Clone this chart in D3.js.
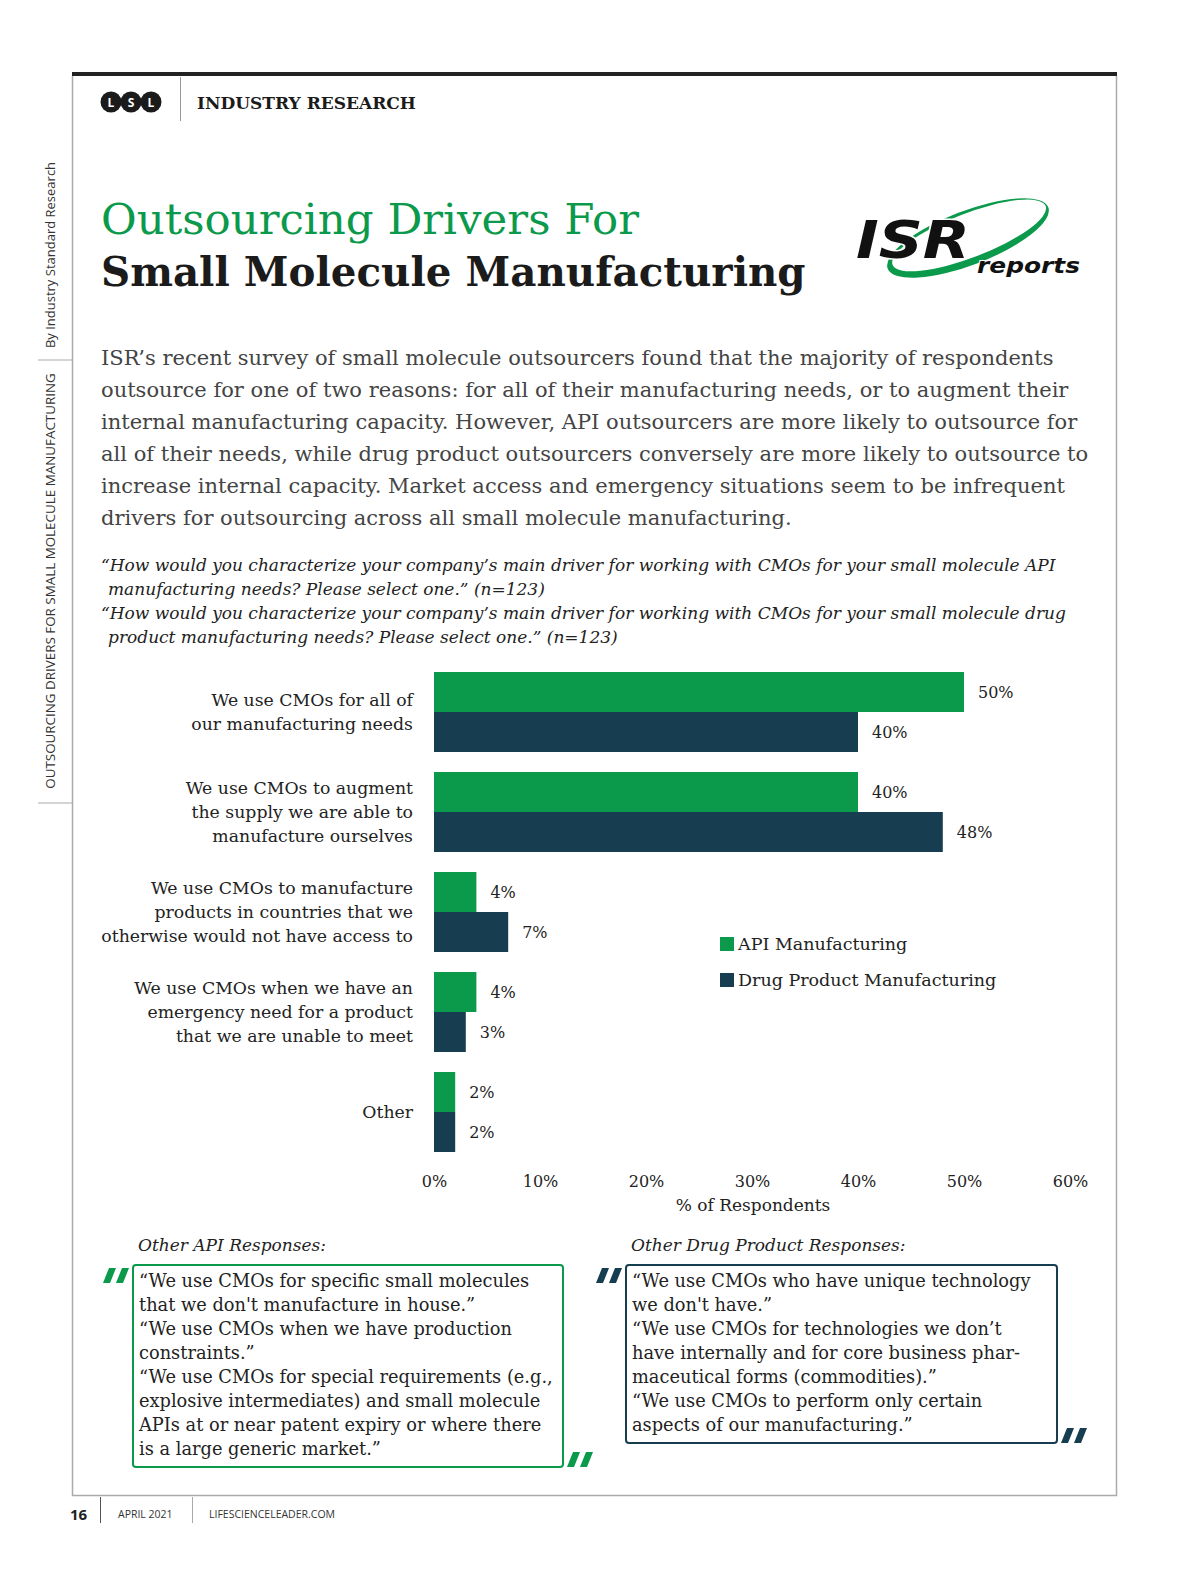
<!DOCTYPE html>
<html>
<head>
<meta charset="utf-8">
<script src="https://cdn.jsdelivr.net/npm/d3@7"></script>
<style>
  html, body { margin: 0; padding: 0; background: #fff; overflow: hidden; }
  svg { display: block; }
</style>
</head>
<body>
<svg id="page" width="1200" height="1582"></svg>
<script>
// chart data
const categories = [
  ["We use CMOs for all of", "our manufacturing needs"],
  ["We use CMOs to augment", "the supply we are able to", "manufacture ourselves"],
  ["We use CMOs to manufacture", "products in countries that we", "otherwise would not have access to"],
  ["We use CMOs when we have an", "emergency need for a product", "that we are unable to meet"],
  ["Other"]
]
const apiValues = [50, 40, 4, 4, 2]
const drugValues = [40, 48, 7, 3, 2]
const seriesNames = ["API Manufacturing", "Drug Product Manufacturing"]
const xTicks = [0, 10, 20, 30, 40, 50, 60]

const green = "#0b9a4b", navy = "#173d51"
const serif = "'DejaVu Serif', serif"
const sans = "'Open Sans', 'DejaVu Sans', sans-serif"

const svg = d3.select("#page")

/* page frame */
svg.append("rect").attr("x", 72).attr("y", 72).attr("width", 1045).attr("height", 4).attr("fill", "#222")
svg.append("line").attr("x1", 72.5).attr("x2", 72.5).attr("y1", 76).attr("y2", 1496).attr("stroke", "#aaa").attr("stroke-width", 1.5)
svg.append("line").attr("x1", 1116.5).attr("x2", 1116.5).attr("y1", 76).attr("y2", 1496).attr("stroke", "#aaa").attr("stroke-width", 1.5)
svg.append("line").attr("x1", 72).attr("x2", 1117).attr("y1", 1495.5).attr("y2", 1495.5).attr("stroke", "#aaa").attr("stroke-width", 1.5)
svg.append("line").attr("x1", 38).attr("x2", 72).attr("y1", 360).attr("y2", 360).attr("stroke", "#aaa")
svg.append("line").attr("x1", 38).attr("x2", 72).attr("y1", 803).attr("y2", 803).attr("stroke", "#aaa")

// side texts
svg.append("text").attr("transform", "translate(55,255) rotate(-90)")
  .attr("text-anchor", "middle").attr("font-family", sans).attr("font-size", 13).attr("fill", "#333")
  .text("By Industry Standard Research")
svg.append("text").attr("transform", "translate(55,581) rotate(-90)")
  .attr("text-anchor", "middle").attr("font-family", sans).attr("font-size", 13.4).attr("fill", "#333")
  .text("OUTSOURCING DRIVERS FOR SMALL MOLECULE MANUFACTURING")

/* header */
;["L", "S", "L"].forEach((l, i) => {
  svg.append("circle").attr("cx", 111 + i * 20).attr("cy", 102).attr("r", 10.5).attr("fill", "#1b1b1b")
  svg.append("text").attr("x", 111 + i * 20).attr("y", 106.5).attr("text-anchor", "middle")
    .attr("font-family", sans).attr("font-weight", 700).attr("font-size", 12).attr("fill", "#fff").text(l)
})
svg.append("line").attr("x1", 180.5).attr("x2", 180.5).attr("y1", 77).attr("y2", 121).attr("stroke", "#999")
svg.append("text").attr("x", 197).attr("y", 109).attr("font-family", serif).attr("font-weight", 700)
  .attr("font-size", 17).attr("fill", "#1b1b1b").text("INDUSTRY RESEARCH")

/* title */
svg.append("text").attr("x", 101).attr("y", 234).attr("font-family", serif).attr("font-size", 43.5)
  .attr("fill", green).text("Outsourcing Drivers For")
svg.append("text").attr("x", 101).attr("y", 286).attr("font-family", serif).attr("font-weight", 700)
  .attr("font-size", 40.4).attr("fill", "#1b1b1b").text("Small Molecule Manufacturing")

/* ISR logo */
const logo = svg.append("g")
logo.append("path")
  .attr("transform", "translate(968,238) rotate(-21)")
  .attr("fill-rule", "evenodd")
  .attr("d", "M-86,0 A86,27 0 1,0 86,0 A86,27 0 1,0 -86,0 Z M-80,-2 A82,22 0 1,0 84,-2 A82,22 0 1,0 -80,-2 Z")
  .attr("fill", green)
logo.append("text").attr("x", 856).attr("y", 258).attr("font-family", "'DejaVu Sans', sans-serif")
  .attr("font-weight", 700).attr("font-style", "italic").attr("font-size", 52)
  .attr("textLength", 114).attr("lengthAdjust", "spacingAndGlyphs")
  .attr("stroke", "#fff").attr("stroke-width", 3).attr("paint-order", "stroke")
  .attr("fill", "#111").text("ISR")
logo.append("text").attr("x", 977).attr("y", 273).attr("font-family", "'DejaVu Sans', sans-serif")
  .attr("font-weight", 700).attr("font-style", "italic").attr("font-size", 22)
  .attr("textLength", 103).attr("lengthAdjust", "spacingAndGlyphs")
  .attr("stroke", "#fff").attr("stroke-width", 2).attr("paint-order", "stroke")
  .attr("fill", "#111").text("reports")

/* intro paragraph */
const para = [
  "ISR\u2019s recent survey of small molecule outsourcers found that the majority of respondents",
  "outsource for one of two reasons: for all of their manufacturing needs, or to augment their",
  "internal manufacturing capacity. However, API outsourcers are more likely to outsource for",
  "all of their needs, while drug product outsourcers conversely are more likely to outsource to",
  "increase internal capacity. Market access and emergency situations seem to be infrequent",
  "drivers for outsourcing across all small molecule manufacturing."
]
svg.append("g").selectAll("text").data(para).enter().append("text")
  .attr("x", 101).attr("y", (d, i) => 365 + i * 32)
  .attr("font-family", serif).attr("font-size", 21).attr("fill", "#444").text(d => d)

const questions = [
  ["\u201cHow would you characterize your company\u2019s main driver for working with CMOs for your small molecule API", 101],
  ["manufacturing needs? Please select one.\u201d (n=123)", 108],
  ["\u201cHow would you characterize your company\u2019s main driver for working with CMOs for your small molecule drug", 101],
  ["product manufacturing needs? Please select one.\u201d (n=123)", 108]
]
svg.append("g").selectAll("text").data(questions).enter().append("text")
  .attr("x", d => d[1]).attr("y", (d, i) => 571 + i * 24)
  .attr("font-family", serif).attr("font-style", "italic").attr("font-size", 17).attr("fill", "#222").text(d => d[0])

/* bar chart */
const x = d3.scaleLinear().domain([0, 60]).range([434, 1070])
const y = d3.scaleBand().domain(d3.range(categories.length)).range([662, 1162]).paddingInner(0.2).paddingOuter(0.1)
const sub = d3.scaleBand().domain([0, 1]).range([0, y.bandwidth()])

const rows = categories.map((c, i) => ({ i, label: c, vals: [apiValues[i], drugValues[i]] }))
const colors = [green, navy]

const grp = svg.append("g").selectAll("g").data(rows).enter().append("g")
  .attr("transform", d => "translate(0," + y(d.i) + ")")

grp.selectAll("rect").data(d => d.vals).enter().append("rect")
  .attr("x", x(0)).attr("y", (d, j) => sub(j))
  .attr("width", d => x(d) - x(0)).attr("height", sub.bandwidth())
  .attr("fill", (d, j) => colors[j])

grp.selectAll("text.val").data(d => d.vals).enter().append("text")
  .attr("class", "val")
  .attr("x", d => x(d) + 14).attr("y", (d, j) => sub(j) + sub.bandwidth() / 2)
  .attr("dy", ".35em").attr("font-family", serif).attr("font-size", 16).attr("fill", "#222")
  .text(d => d + "%")

grp.each(function (d) {
  const n = d.label.length
  d3.select(this).selectAll("text.cat").data(d.label).enter().append("text")
    .attr("class", "cat")
    .attr("x", 413).attr("y", (t, k) => y.bandwidth() / 2 + (k - (n - 1) / 2) * 24)
    .attr("dy", ".35em").attr("text-anchor", "end")
    .attr("font-family", serif).attr("font-size", 17.3).attr("fill", "#222").text(t => t)
})

const xAxis = d3.axisBottom(x).tickValues(xTicks).tickFormat(d => d + "%").tickSize(0).tickPadding(0)
const ax = svg.append("g").attr("transform", "translate(0,1176)").call(xAxis)
ax.select(".domain").remove()
ax.selectAll("text").attr("font-family", serif).attr("font-size", 16).attr("fill", "#222")

svg.append("text").attr("x", (x(0) + x(60)) / 2 + 1).attr("y", 1205).attr("dy", ".35em")
  .attr("text-anchor", "middle").attr("font-family", serif).attr("font-size", 17).attr("fill", "#222")
  .text("% of Respondents")

// legend
const leg = svg.append("g").selectAll("g").data(seriesNames).enter().append("g")
  .attr("transform", (d, i) => "translate(720," + (944 + i * 36) + ")")
leg.append("rect").attr("x", 0).attr("y", -7).attr("width", 14).attr("height", 14).attr("fill", (d, i) => colors[i])
leg.append("text").attr("x", 18).attr("dy", ".35em").attr("font-family", serif).attr("font-size", 17.5)
  .attr("fill", "#222").text(d => d)

/* quote boxes */
const apiQuotes = [
  "\u201cWe use CMOs for specific small molecules",
  "that we don't manufacture in house.\u201d",
  "\u201cWe use CMOs when we have production",
  "constraints.\u201d",
  "\u201cWe use CMOs for special requirements (e.g.,",
  "explosive intermediates) and small molecule",
  "APIs at or near patent expiry or where there",
  "is a large generic market.\u201d"
]
const drugQuotes = [
  "\u201cWe use CMOs who have unique technology",
  "we don't have.\u201d",
  "\u201cWe use CMOs for technologies we don\u2019t",
  "have internally and for core business phar-",
  "maceutical forms (commodities).\u201d",
  "\u201cWe use CMOs to perform only certain",
  "aspects of our manufacturing.\u201d"
]

function quoteMark(px, py, color) {
  [0, 13].forEach(o => {
    svg.append("path")
      .attr("d", `M${px + o + 6},${py} L${px + o + 13},${py} L${px + o + 7},${py + 15} L${px + o},${py + 15} Z`)
      .attr("fill", color)
  })
}

function quoteBox(bx, by, bw, title, lines, color) {
  svg.append("text").attr("x", bx + 5).attr("y", by - 20).attr("dy", ".35em")
    .attr("font-family", serif).attr("font-style", "italic").attr("font-size", 17).attr("fill", "#222").text(title)
  const bh = lines.length * 24 + 10
  svg.append("rect").attr("x", bx).attr("y", by).attr("width", bw).attr("height", bh)
    .attr("rx", 3).attr("fill", "none").attr("stroke", color).attr("stroke-width", 2)
  svg.append("g").selectAll("text").data(lines).enter().append("text")
    .attr("x", bx + 6).attr("y", (d, i) => by + 16 + i * 24).attr("dy", ".35em")
    .attr("font-family", serif).attr("font-size", 17.8).attr("fill", "#222").text(d => d)
  return bh
}

const h1 = quoteBox(133, 1265, 430, "Other API Responses:", apiQuotes, green)
quoteMark(103, 1268, green)
quoteMark(567, 1265 + h1 - 15, green)
const h2 = quoteBox(626, 1265, 431, "Other Drug Product Responses:", drugQuotes, navy)
quoteMark(596, 1268, navy)
quoteMark(1061, 1265 + h2 - 15, navy)

/* footer */
svg.append("text").attr("x", 70).attr("y", 1520).attr("font-family", sans).attr("font-weight", 700)
  .attr("font-size", 15).attr("fill", "#222").text("16")
svg.append("line").attr("x1", 100.5).attr("x2", 100.5).attr("y1", 1497).attr("y2", 1523).attr("stroke", "#555")
svg.append("text").attr("x", 118).attr("y", 1518).attr("font-family", sans)
  .attr("font-size", 10.5).attr("fill", "#333").text("APRIL 2021")
svg.append("line").attr("x1", 192.5).attr("x2", 192.5).attr("y1", 1497).attr("y2", 1523).attr("stroke", "#aaa")
svg.append("text").attr("x", 209).attr("y", 1518).attr("font-family", sans)
  .attr("font-size", 10.5).attr("fill", "#333").text("LIFESCIENCELEADER.COM")
</script>
</body>
</html>
